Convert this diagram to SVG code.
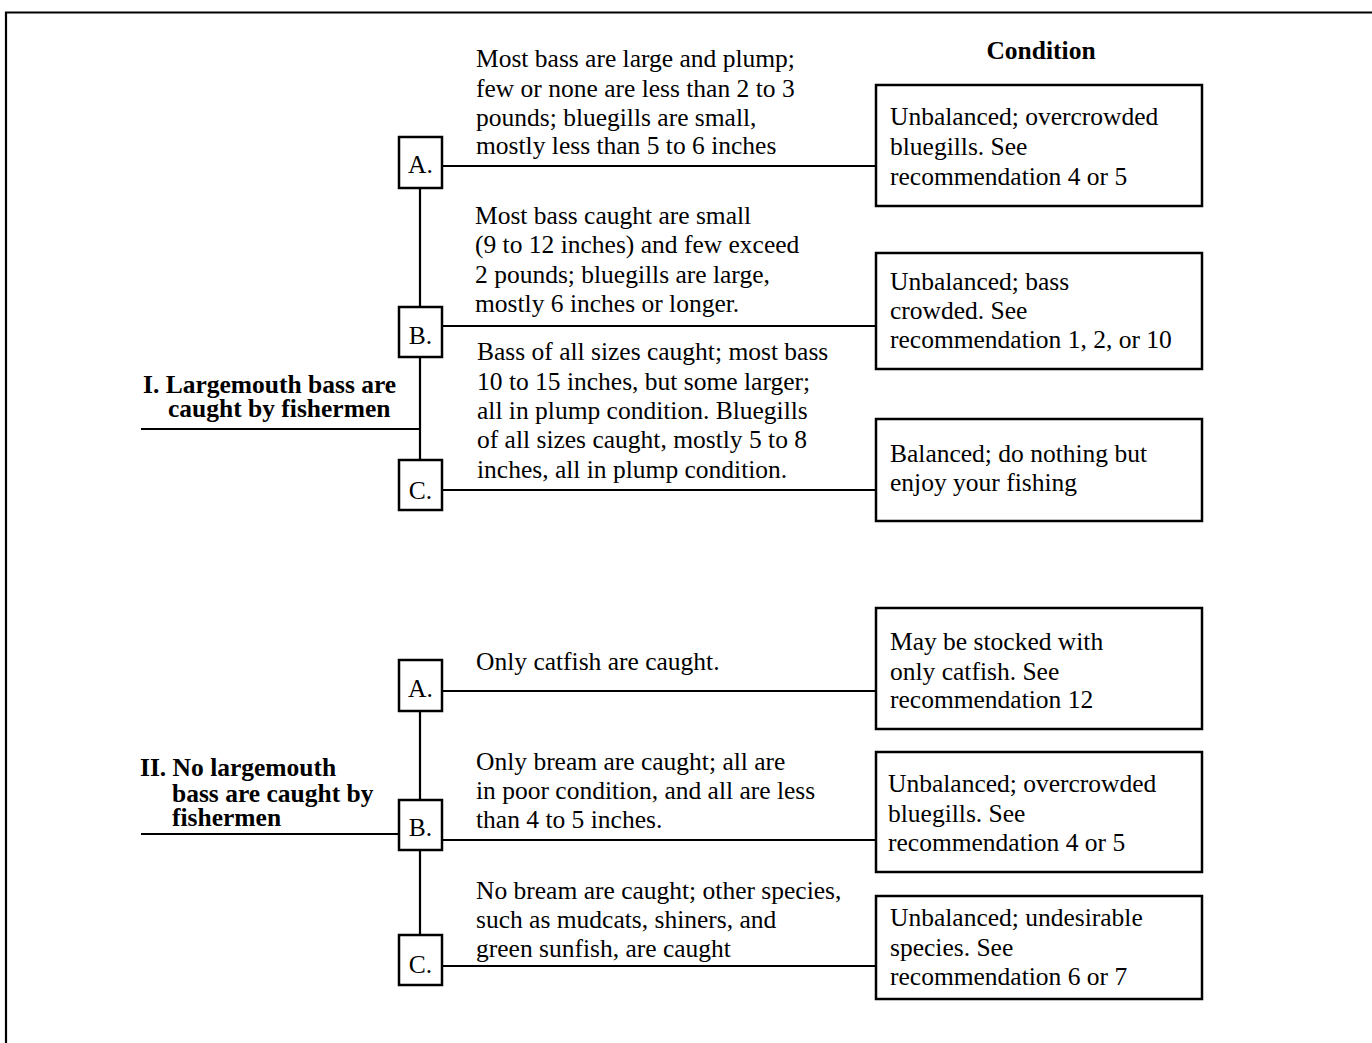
<svg xmlns="http://www.w3.org/2000/svg" width="1372" height="1043" viewBox="0 0 1372 1043">
<style>
text{font-family:"Liberation Serif","Times New Roman",serif;font-size:25.5px;fill:#000}
.b{font-weight:bold}
.box{fill:#fff;stroke:#000;stroke-width:2.5}
.ln{stroke:#000;stroke-width:2.2;fill:none}
.c{text-anchor:middle}
</style>
<rect width="1372" height="1043" fill="#fff"/>
<g id="frame"><path class="ln" d="M6,1043 V12.5 H1372" stroke-width="2.5"/></g>
<g id="connectors">
<path class="ln" d="M141,429 H420"/>
<path class="ln" d="M420,188 V308 M420,357 V460"/>
<path class="ln" d="M442,166 H876 M442,326 H876 M442,490 H876"/>
<path class="ln" d="M141,834 H399"/>
<path class="ln" d="M420,711 V800 M420,850 V935"/>
<path class="ln" d="M442,691 H876 M442,840 H876 M442,966 H876"/>
</g>
<g id="header"><text class="b c" x="1041" y="59">Condition</text></g>
<g id="root1"><text class="b" x="143" y="393">I. Largemouth bass are</text><text class="b" x="168" y="417">caught by fishermen</text></g>
<g id="root2"><text class="b" x="140" y="776">II. No largemouth</text><text class="b" x="172" y="802">bass are caught by</text><text class="b" x="172" y="826">fishermen</text></g>
<g id="I-A"><rect class="box" x="399" y="137" width="43" height="51"/><text class="c" x="420.5" y="173">A.</text></g>
<g id="I-B"><rect class="box" x="399" y="307" width="43" height="50"/><text class="c" x="420.5" y="344">B.</text></g>
<g id="I-C"><rect class="box" x="399" y="460" width="43" height="50"/><text class="c" x="420.5" y="499">C.</text></g>
<g id="II-A"><rect class="box" x="399" y="660" width="43" height="51"/><text class="c" x="420.5" y="697">A.</text></g>
<g id="II-B"><rect class="box" x="399" y="800" width="43" height="50"/><text class="c" x="420.5" y="836">B.</text></g>
<g id="II-C"><rect class="box" x="399" y="935" width="43" height="50"/><text class="c" x="420.5" y="973">C.</text></g>
<g id="desc-I-A"><text x="476" y="67">Most bass are large and plump;</text><text x="476" y="97">few or none are less than 2 to 3</text><text x="476" y="126">pounds; bluegills are small,</text><text x="476" y="154">mostly less than 5 to 6 inches</text></g>
<g id="desc-I-B"><text x="475" y="224">Most bass caught are small</text><text x="475" y="253">(9 to 12 inches) and few exceed</text><text x="475" y="283">2 pounds; bluegills are large,</text><text x="475" y="312">mostly 6 inches or longer.</text></g>
<g id="desc-I-C"><text x="477" y="360">Bass of all sizes caught; most bass</text><text x="477" y="390">10 to 15 inches, but some larger;</text><text x="477" y="419">all in plump condition. Bluegills</text><text x="477" y="448">of all sizes caught, mostly 5 to 8</text><text x="477" y="478">inches, all in plump condition.</text></g>
<g id="desc-II-A"><text x="476" y="670">Only catfish are caught.</text></g>
<g id="desc-II-B"><text x="476" y="770">Only bream are caught; all are</text><text x="476" y="799">in poor condition, and all are less</text><text x="476" y="828">than 4 to 5 inches.</text></g>
<g id="desc-II-C"><text x="476" y="899">No bream are caught; other species,</text><text x="476" y="928">such as mudcats, shiners, and</text><text x="476" y="957">green sunfish, are caught</text></g>
<g id="cond-I-A"><rect class="box" x="876" y="85" width="326" height="121"/><text x="890" y="125">Unbalanced; overcrowded</text><text x="890" y="155">bluegills. See</text><text x="890" y="185">recommendation 4 or 5</text></g>
<g id="cond-I-B"><rect class="box" x="876" y="253" width="326" height="116"/><text x="890" y="290">Unbalanced; bass</text><text x="890" y="319">crowded. See</text><text x="890" y="348">recommendation 1, 2, or 10</text></g>
<g id="cond-I-C"><rect class="box" x="876" y="419" width="326" height="102"/><text x="890" y="462">Balanced; do nothing but</text><text x="890" y="491">enjoy your fishing</text></g>
<g id="cond-II-A"><rect class="box" x="876" y="608" width="326" height="121"/><text x="890" y="650">May be stocked with</text><text x="890" y="680">only catfish. See</text><text x="890" y="708">recommendation 12</text></g>
<g id="cond-II-B"><rect class="box" x="876" y="752" width="326" height="120"/><text x="888" y="792">Unbalanced; overcrowded</text><text x="888" y="822">bluegills. See</text><text x="888" y="851">recommendation 4 or 5</text></g>
<g id="cond-II-C"><rect class="box" x="876" y="896" width="326" height="103"/><text x="890" y="926">Unbalanced; undesirable</text><text x="890" y="956">species. See</text><text x="890" y="985">recommendation 6 or 7</text></g>
</svg>
